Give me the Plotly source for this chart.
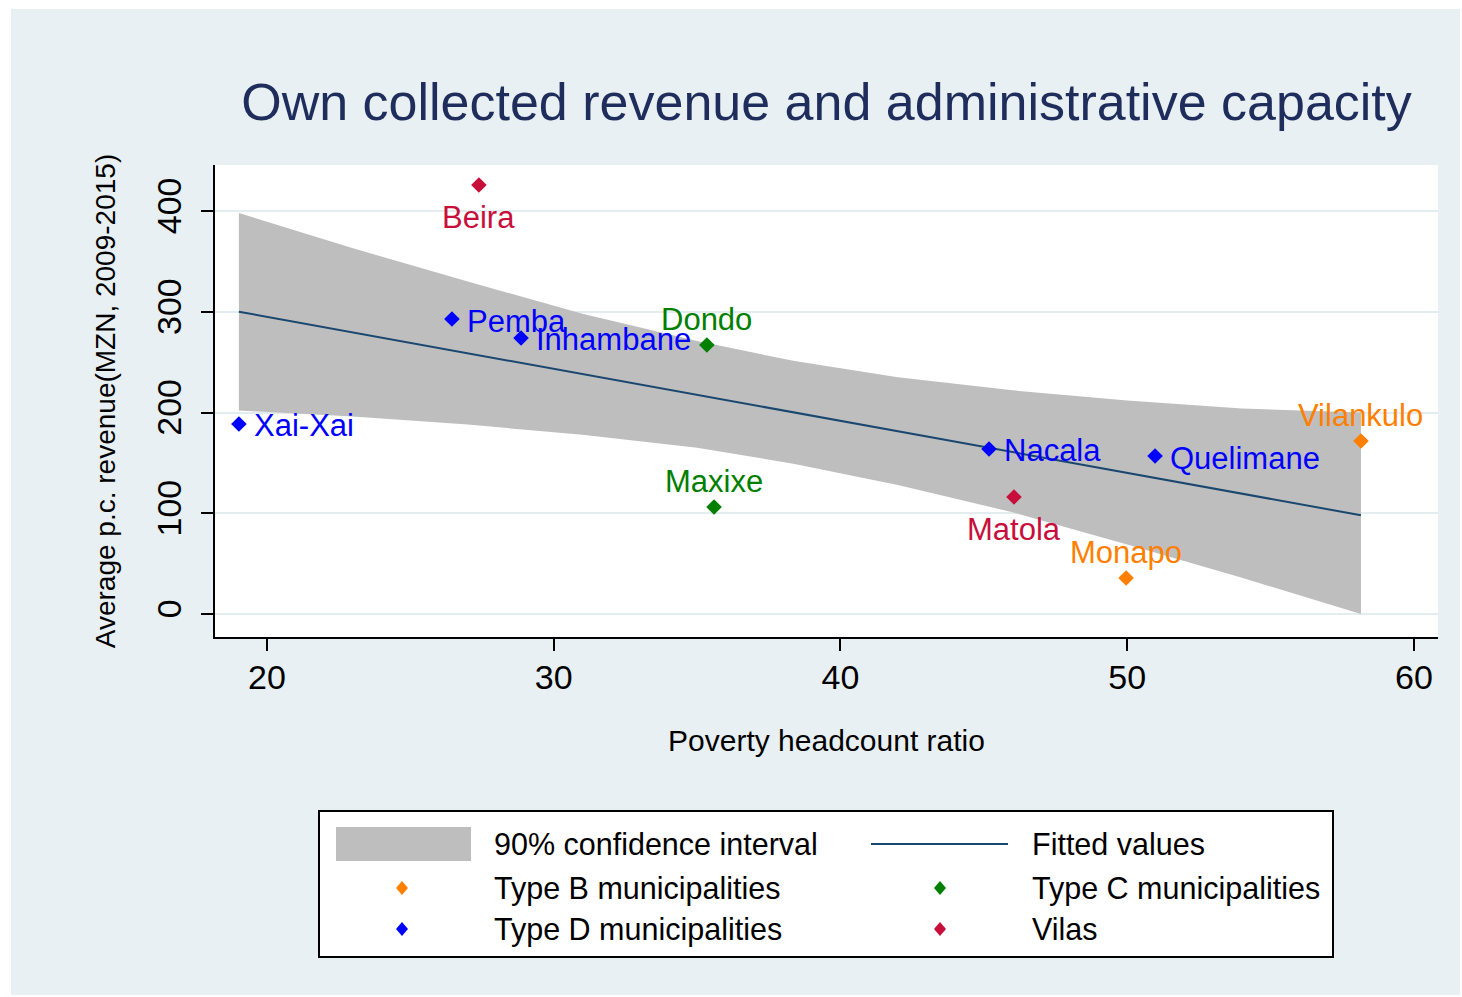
import plotly.graph_objects as go

# ---------------- data ----------------
typeB_names = ["Monapo", "Vilankulo"]
typeB_x = [49.96, 58.15]
typeB_y = [35.7, 171.7]
typeB_pos = ["top", "top"]

typeC_names = ["Dondo", "Maxixe"]
typeC_x = [35.34, 35.59]
typeC_y = [267.0, 106.2]
typeC_pos = ["top", "top"]

typeD_names = ["Xai-Xai", "Pemba", "Inhambane", "Nacala", "Quelimane"]
typeD_x = [19.02, 26.45, 28.86, 45.18, 50.97]
typeD_y = [188.6, 292.8, 274.0, 163.8, 156.8]
typeD_pos = ["right"] * 5

vilas_names = ["Beira", "Matola"]
vilas_x = [27.39, 46.05]
vilas_y = [425.8, 116.1]
vilas_pos = ["bottom", "bottom"]

ci_x = [19.02, 23, 27, 31, 35, 38.4, 42, 46, 50, 54, 58.15]
ci_hi = [398, 363, 330, 298, 271, 251, 235, 222, 212, 204, 200]
ci_lo = [202, 196, 188, 178, 165, 149, 128, 101, 69, 36, 0]

fit_x = [19.02, 58.15]
fit_y = [300.0, 98.0]

x_ticks = [20, 30, 40, 50, 60]
y_ticks = [0, 100, 200, 300, 400]

title_text = "Own collected revenue and administrative capacity"
x_title = "Poverty headcount ratio"
y_title = "Average p.c. revenue(MZN, 2009-2015)"

legend_left = ["90% confidence interval", "Type B municipalities", "Type D municipalities"]
legend_right = ["Fitted values", "Type C municipalities", "Vilas"]

# ---------------- styles ----------------
C_B = "#FF7F00"
C_C = "#007F00"
C_D = "#0000FF"
C_V = "#C80F3C"
C_FIT = "#1A476F"
C_CI = "#BEBEBE"
C_PANEL = "#E8F0F3"
FONT = "Liberation Sans, Arial, sans-serif"

W_FIG, H_FIG = 1462, 997
L, T, W, H = 215, 165, 1223, 472


def px(x):
    return (x - L) / W


def py(y):
    return (T + H - y) / H


# label placement (Stata clock positions) -> annotation anchoring
LABEL_STYLE = {
    "right": dict(xanchor="left", yanchor="middle", xshift=14, yshift=-2),
    "top": dict(xanchor="center", yanchor="middle", xshift=0, yshift=26),
    "bottom": dict(xanchor="center", yanchor="middle", xshift=0, yshift=-32),
}

fig = go.Figure()

# confidence band
fig.add_trace(go.Scatter(
    x=ci_x + ci_x[::-1], y=ci_hi + ci_lo[::-1],
    fill="toself", fillcolor=C_CI, mode="lines",
    line=dict(width=0, color=C_CI), hoverinfo="skip", showlegend=False))

# fitted line
fig.add_trace(go.Scatter(
    x=fit_x, y=fit_y, mode="lines",
    line=dict(color=C_FIT, width=2), showlegend=False))

annotations = []
for names, xs, ys, pos, col in [
    (typeB_names, typeB_x, typeB_y, typeB_pos, C_B),
    (typeC_names, typeC_x, typeC_y, typeC_pos, C_C),
    (typeD_names, typeD_x, typeD_y, typeD_pos, C_D),
    (vilas_names, vilas_x, vilas_y, vilas_pos, C_V),
]:
    fig.add_trace(go.Scatter(
        x=xs, y=ys, mode="markers", text=names,
        marker=dict(symbol="diamond", size=12, color=col),
        showlegend=False))
    for n, xv, yv, p in zip(names, xs, ys, pos):
        st = LABEL_STYLE[p]
        annotations.append(dict(x=xv, y=yv, xref="x", yref="y", text=n,
                                showarrow=False, borderpad=0,
                                font=dict(family=FONT, size=31, color=col), **st))

shapes = []
# outer panel
shapes.append(dict(type="rect", xref="paper", yref="paper",
                   x0=px(11), x1=px(1460), y0=py(995), y1=py(9),
                   fillcolor=C_PANEL, line=dict(width=0), layer="below"))
# plot region background
shapes.append(dict(type="rect", xref="paper", yref="paper",
                   x0=0, x1=1, y0=0, y1=1,
                   fillcolor="white", line=dict(width=0), layer="below"))
# legend box
shapes.append(dict(type="rect", xref="paper", yref="paper",
                   x0=px(319), x1=px(1333), y0=py(957), y1=py(811),
                   fillcolor="white", line=dict(color="black", width=2)))
# legend keys
shapes.append(dict(type="rect", xref="paper", yref="paper",
                   x0=px(336), x1=px(471), y0=py(861), y1=py(827),
                   fillcolor=C_CI, line=dict(width=0)))
shapes.append(dict(type="line", xref="paper", yref="paper",
                   x0=px(871), x1=px(1008), y0=py(844), y1=py(844),
                   line=dict(color=C_FIT, width=2)))


def diamond(cx, cy, col, hw=6, hh=7):
    path = (f"M {px(cx)},{py(cy - hh)} L {px(cx + hw)},{py(cy)} "
            f"L {px(cx)},{py(cy + hh)} L {px(cx - hw)},{py(cy)} Z")
    return dict(type="path", xref="paper", yref="paper", path=path,
                fillcolor=col, line=dict(width=0))


shapes.append(diamond(402, 888, C_B))
shapes.append(diamond(940, 888, C_C))
shapes.append(diamond(402, 929, C_D))
shapes.append(diamond(940, 929, C_V))

rows_y = [844, 888, 929]
for txt, yy in zip(legend_left, rows_y):
    annotations.append(dict(x=px(493), y=py(yy), xref="paper", yref="paper",
                            text=txt, showarrow=False, xanchor="left", yanchor="middle",
                            borderpad=0,
                            font=dict(family=FONT, size=30.5, color="black")))
for txt, yy in zip(legend_right, rows_y):
    annotations.append(dict(x=px(1031), y=py(yy), xref="paper", yref="paper",
                            text=txt, showarrow=False, xanchor="left", yanchor="middle",
                            borderpad=0,
                            font=dict(family=FONT, size=30.5, color="black")))

fig.update_layout(
    width=W_FIG, height=H_FIG,
    margin=dict(l=L, r=W_FIG - L - W, t=T, b=H_FIG - T - H),
    paper_bgcolor="white", plot_bgcolor="white",
    shapes=shapes, annotations=annotations,
    showlegend=False,
    title=dict(text=title_text, x=0.5, xref="paper", xanchor="center",
               y=1 - 102 / H_FIG, yanchor="middle",
               font=dict(family=FONT, size=52, color="#1E2D5C")),
    xaxis=dict(range=[18.187, 60.837], tickvals=x_ticks, showgrid=False,
               zeroline=False, showline=True, linecolor="black", linewidth=2,
               ticks="outside", ticklen=12, tickwidth=2, tickcolor="black",
               tickfont=dict(family=FONT, size=34, color="black"),
               ticklabelstandoff=-3,
               title=dict(text=x_title, standoff=35,
                          font=dict(family=FONT, size=30, color="black"))),
    yaxis=dict(range=[-22.83, 445.66], tickvals=y_ticks, showgrid=True,
               gridcolor="#E3ECEF", gridwidth=1.5,
               zeroline=False, showline=True, linecolor="black", linewidth=2,
               ticks="outside", ticklen=12, tickwidth=2, tickcolor="black",
               tickangle=-90,
               tickfont=dict(family=FONT, size=34, color="black"),
               ticklabelstandoff=6,
               title=dict(text=y_title, standoff=27,
                          font=dict(family=FONT, size=28, color="black"))),
)

fig.write_html("out.html")
